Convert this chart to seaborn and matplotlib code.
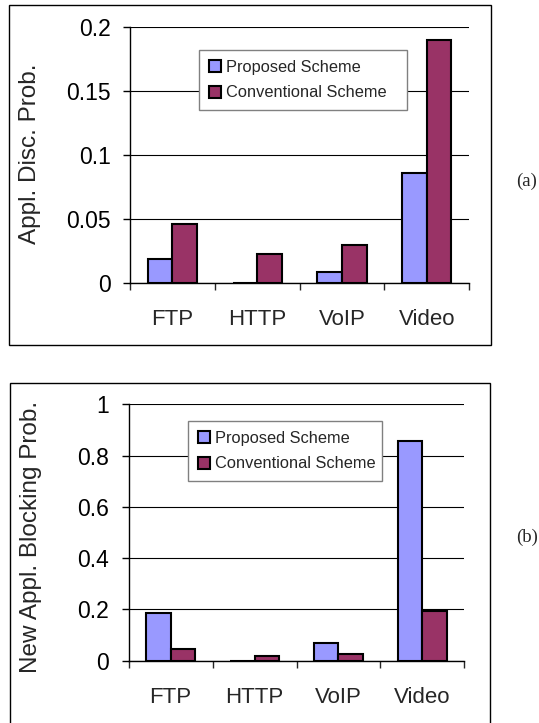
import numpy as np
import pandas as pd
import matplotlib
matplotlib.use("Agg")
import matplotlib.pyplot as plt
from matplotlib.patches import Rectangle, Patch
import seaborn as sns

sns.set_style("white")
plt.rcParams['font.family'] = ['Liberation Sans', 'DejaVu Sans']

# data
apps = ["FTP", "HTTP", "VoIP", "Video"]
schemes = ["Proposed Scheme", "Conventional Scheme"]
disc_proposed = [0.019, 0.0, 0.009, 0.086]
disc_conventional = [0.046, 0.023, 0.030, 0.190]
block_proposed = [0.185, 0.0, 0.071, 0.858]
block_conventional = [0.044, 0.017, 0.027, 0.192]

colors = {"Proposed Scheme": "#9999FF", "Conventional Scheme": "#993366"}


def make_frame(prop, conv):
    return pd.DataFrame({
        "app": apps * 2,
        "scheme": [schemes[0]] * len(apps) + [schemes[1]] * len(apps),
        "value": list(prop) + list(conv),
    })


def draw_panel(ax, df, ylim, yticks, ticklabels, ylabel, label_xy, leg_box):
    sns.barplot(data=df, x="app", y="value", hue="scheme", order=apps,
                hue_order=schemes, palette=colors, width=0.58,
                edgecolor="black", linewidth=1.5, saturation=1, ax=ax,
                legend=False)
    ax.set_xlim(-0.5, 3.5)
    ax.set_ylim(*ylim)
    ax.set_yticks(yticks)
    ax.set_yticklabels(ticklabels)
    for t in yticks:
        ax.axhline(t, color="black", lw=0.8, zorder=0)
    for s in ["top", "right"]:
        ax.spines[s].set_visible(False)
    for s in ["left", "bottom"]:
        ax.spines[s].set_color("black")
        ax.spines[s].set_linewidth(1.0)
    ax.tick_params(axis="y", direction="out", length=5, width=1, pad=9,
                   labelsize=16.5, left=True, colors="black")
    ax.tick_params(axis="x", which="major", length=0, pad=19, labelsize=16)
    ax.set_xticks(np.arange(-0.5, 4.0, 1.0), minor=True)
    ax.tick_params(axis="x", which="minor", direction="out", length=5,
                   width=1, bottom=True)
    ax.set_xlabel("")
    ax.set_ylabel(ylabel, fontsize=17.5)
    ax.yaxis.set_label_coords(*label_xy)
    handles = [Patch(facecolor=colors[s], edgecolor="black", linewidth=1.5,
                     label=s) for s in schemes]
    leg = ax.legend(handles=handles, loc="upper left", bbox_to_anchor=leg_box,
                    mode="expand", fontsize=11.8, frameon=True,
                    fancybox=False, edgecolor="#808080", framealpha=1,
                    handlelength=0.75, handleheight=0.75, handletextpad=0.3,
                    labelspacing=0.65, borderpad=0.6, borderaxespad=0)
    leg.get_frame().set_linewidth(1.0)


fig = plt.figure(figsize=(5.39, 7.23), dpi=100)

ax1 = fig.add_axes([130 / 539, 1 - 283 / 723, 339.3 / 539, 255.5 / 723])
draw_panel(ax1, make_frame(disc_proposed, disc_conventional), (0, 0.2),
           [0, 0.05, 0.1, 0.15, 0.2], ["0", "0.05", "0.1", "0.15", "0.2"],
           "Appl. Disc. Prob.", (-0.262, 0.505),
           (0.204, 0.912, 0.613, 0.0))

ax2 = fig.add_axes([128.7 / 539, 1 - 660.7 / 723, 335.6 / 539, 256.3 / 723])
draw_panel(ax2, make_frame(block_proposed, block_conventional), (0, 1.0),
           [0, 0.2, 0.4, 0.6, 0.8, 1.0], ["0", "0.2", "0.4", "0.6", "0.8", "1"],
           "New Appl. Blocking Prob.", (-0.259, 0.484),
           (0.177, 0.936, 0.578, 0.0))

# outer frames around each panel
fig.add_artist(Rectangle((9 / 539, 1 - 345 / 723), 482 / 539, 340 / 723,
                         transform=fig.transFigure, fill=False,
                         edgecolor="black", lw=1.0))
fig.add_artist(Rectangle((10 / 539, -0.01), 480 / 539, 1 - 383 / 723 + 0.01,
                         transform=fig.transFigure, fill=False,
                         edgecolor="black", lw=1.0))

fig.text(527 / 539, 1 - 181 / 723, "(a)", ha="center", va="center",
         fontsize=13.5, family=["Liberation Serif", "DejaVu Serif"])
fig.text(527 / 539, 1 - 537 / 723, "(b)", ha="center", va="center",
         fontsize=13.5, family=["Liberation Serif", "DejaVu Serif"])

fig.savefig("out.png", dpi=100)
